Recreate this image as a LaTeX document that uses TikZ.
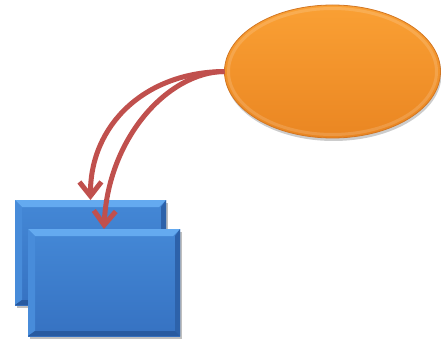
\documentclass[tikz,border=0pt]{standalone}
\usetikzlibrary{arrows.meta,shadows,shapes.geometric}
\definecolor{boxtop}{RGB}{68,136,214}
\definecolor{boxbot}{RGB}{54,114,194}
\definecolor{bevtop}{RGB}{100,170,240}
\definecolor{bevleft}{RGB}{72,140,218}
\definecolor{bevright}{RGB}{45,98,170}
\definecolor{bevbot}{RGB}{40,90,160}
\definecolor{ovtop}{RGB}{250,160,52}
\definecolor{ovbot}{RGB}{234,134,34}
\definecolor{ovedge}{RGB}{210,118,34}
\definecolor{arrred}{RGB}{192,80,77}
\tikzset{
  box/.style={minimum width=151pt, minimum height=105pt, inner sep=0pt, outer sep=0pt,
    top color=boxtop, bottom color=boxbot,
    drop shadow={shadow xshift=2pt, shadow yshift=-3pt, opacity=0.25, fill=black},
    path picture={
      \coordinate (NW) at (path picture bounding box.north west);
      \coordinate (NE) at (path picture bounding box.north east);
      \coordinate (SW) at (path picture bounding box.south west);
      \coordinate (SE) at (path picture bounding box.south east);
      \fill[bevtop] (NW) -- (NE) -- ([shift={(-7pt,-7pt)}]NE) -- ([shift={(7pt,-7pt)}]NW) -- cycle;
      \fill[bevleft] (NW) -- ([shift={(7pt,-7pt)}]NW) -- ([shift={(7pt,5pt)}]SW) -- (SW) -- cycle;
      \fill[bevright] (NE) -- ([shift={(-5pt,-7pt)}]NE) -- ([shift={(-5pt,5pt)}]SE) -- (SE) -- cycle;
      \fill[bevbot] (SW) -- ([shift={(7pt,5pt)}]SW) -- ([shift={(-5pt,5pt)}]SE) -- (SE) -- cycle;
    }},
  oval/.style={ellipse, minimum width=216pt, minimum height=133pt, inner sep=0pt, outer sep=0pt,
    top color=ovtop, bottom color=ovbot, draw=ovedge, line width=0.8pt,
    drop shadow={shadow xshift=1pt, shadow yshift=-3pt, opacity=0.2, fill=black},
    path picture={
      \draw[white, opacity=0.15, line width=3pt] (path picture bounding box.center) ellipse [x radius=104pt, y radius=63pt];
    }},
  arr/.style={draw=arrred, line width=5pt, -{Straight Barb[length=14pt,width=22pt]}}
}
\begin{document}
\begin{tikzpicture}[x=1pt,y=-1pt]
\useasboundingbox (0,0) rectangle (441,339);
\node[oval] (e) at (332.5,71.5) {};
\node[box] (b) at (90.5,252.5) {};
\node[box, minimum width=152pt, minimum height=107pt] (f) at (104,282.5) {};
\draw[arr] (e.west) .. controls (145,72) and (90,125) .. (b.north);
\draw[arr] (e.west) .. controls (168,72) and (108,138) .. (f.north);
\end{tikzpicture}
\end{document}
